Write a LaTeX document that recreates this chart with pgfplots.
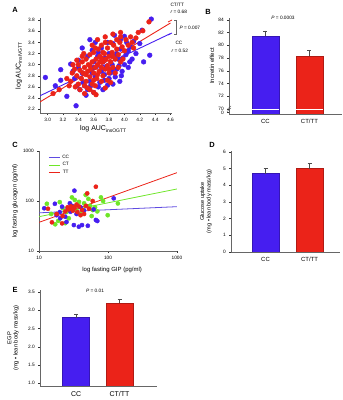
\documentclass[border=0pt]{standalone}
\usepackage{fontspec}
\setmainfont{Liberation Sans}
\usepackage{pgfplots}
\pgfplotsset{compat=1.18}
\definecolor{cblue}{RGB}{70,30,240}
\definecolor{cred}{RGB}{235,35,25}
\definecolor{cgreen}{RGB}{110,230,40}
\definecolor{lblue}{RGB}{95,75,225}
\pgfplotsset{panel/.style={scale only axis, axis x line*=bottom, axis y line*=left,
  xtick pos=left, ytick pos=left, tick align=outside, major tick length=1.8bp,
  tick style={black!80, line width=0.4pt}, axis line style={black!60, line width=0.5pt},
  tick label style={font=\fontsize{4.8}{5.5}\selectfont},
  /pgf/number format/assume math mode=true,
  label style={font=\fontsize{6}{7}\selectfont}},
  barpanel/.style={panel, xtick={1,2}, xticklabels={CC,CT/TT}, xtick style={draw=none},
  xticklabel style={font=\fontsize{6}{7}\selectfont}},
  bar/.style={ybar, bar shift=0pt, bar width=27bp, fill=#1, draw=#1!75!black, line width=0.4pt,
  error bars/.cd, y dir=plus, y explicit, error bar style={black!70, line width=0.4pt},
  error mark options={rotate=90, mark size=2bp, black!70, line width=0.4pt}}
}
\begin{document}
\begin{tikzpicture}
\path[use as bounding box] (0,0) rectangle (343bp,400bp);
% ---------------- A
\begin{axis}[panel, at={(40bp,287bp)}, anchor=south west, width=132bp, height=95bp,
  xmin=2.9, xmax=4.62, ymin=2.13, ymax=3.84,
  xtick={3.0,3.2,3.4,3.6,3.8,4.0,4.2,4.4,4.6}, ytick={2.2,2.4,2.6,2.8,3.0,3.2,3.4,3.6,3.8},
  xticklabel style={/pgf/number format/.cd, fixed, fixed zerofill, precision=1},
  yticklabel style={/pgf/number format/.cd, fixed, fixed zerofill, precision=1},
  label style={font=\fontsize{7}{8}\selectfont},
  xlabel={log AUC\textsubscript{insOGTT}}, ylabel={log AUC\textsubscript{insIVGTT}},
  xlabel style={at={(axis description cs:0.48,-0.17)}, anchor=center},
  ylabel style={at={(axis description cs:-0.16,0.5)}, anchor=center}]
\addplot[cblue, line width=0.9pt] coordinates {(2.9,2.44) (4.6,3.56)};
\addplot[cred, line width=0.9pt] coordinates {(2.9,2.33) (4.6,3.75)};
\addplot[only marks, mark=*, mark size=2.4bp, cblue] table {
x y
2.97 2.77
3.17 2.72
3.17 2.91
3.10 2.62
3.25 2.43
3.37 2.26
3.30 3.01
3.40 3.08
3.45 2.85
3.48 2.62
3.52 2.55
3.55 2.70
3.58 3.26
3.60 2.95
3.62 2.78
3.65 3.15
3.66 2.60
3.70 2.88
3.72 3.05
3.74 2.72
3.76 2.95
3.78 2.63
3.80 3.20
3.82 2.85
3.84 3.00
3.85 3.38
3.87 3.53
3.88 2.78
3.90 2.92
3.92 3.10
3.94 2.70
3.95 3.28
3.97 2.88
4.00 3.51
4.00 3.00
4.02 3.18
4.05 2.95
4.08 3.32
4.10 3.10
4.12 3.42
4.15 3.20
4.20 3.38
4.23 3.62
4.25 3.05
4.33 3.17
4.35 3.82
3.55 3.45
3.45 3.30
3.35 2.75
3.42 2.55
3.50 2.45
3.60 2.50
3.68 2.68
3.72 2.55
3.85 2.65
3.78 3.40
3.70 3.30
3.62 3.40
3.52 3.15
3.40 2.95
3.33 2.88
3.60 3.05
3.75 3.12
3.90 3.20
4.05 3.25
3.95 3.45
3.88 3.15
3.66 3.22
3.58 2.85
3.80 2.75
3.93 2.98
3.98 3.12
4.03 3.40
3.46 2.68
3.38 2.62
3.56 2.62
3.84 2.90
3.96 2.80
4.07 3.05
3.74 2.82
};
\addplot[only marks, mark=*, mark size=2.4bp, cred] table {
x y
3.07 2.48
3.15 2.55
3.48 2.48
3.63 2.46
3.60 2.50
3.30 2.70
3.32 2.85
3.35 2.92
3.38 2.80
3.40 2.65
3.40 3.00
3.42 2.90
3.44 2.75
3.45 3.05
3.46 2.85
3.48 2.95
3.50 2.70
3.50 3.10
3.52 2.88
3.53 3.00
3.55 2.78
3.55 3.18
3.56 2.92
3.58 3.05
3.58 2.65
3.60 2.85
3.60 3.22
3.62 2.95
3.63 3.10
3.64 2.75
3.65 3.00
3.66 3.28
3.67 2.88
3.68 3.15
3.70 2.95
3.70 3.35
3.72 3.05
3.72 2.80
3.74 3.20
3.75 2.92
3.76 3.10
3.78 3.30
3.78 2.98
3.80 3.15
3.80 2.85
3.82 3.40
3.82 3.05
3.84 3.22
3.85 2.95
3.86 3.35
3.88 3.10
3.90 3.28
3.90 3.45
3.92 3.18
3.94 3.40
3.95 3.05
3.97 3.32
4.00 3.25
4.02 3.45
4.05 3.35
4.08 3.50
4.10 3.40
4.15 3.48
4.18 3.58
4.24 3.61
4.32 3.77
3.36 2.60
3.42 2.55
3.48 2.62
3.52 2.58
3.45 3.15
3.38 3.08
3.55 2.55
3.62 2.62
3.58 3.35
3.65 3.45
3.75 3.50
3.85 3.55
3.95 3.58
3.70 2.70
3.78 2.72
3.88 2.85
3.92 2.95
3.98 3.10
3.25 2.75
3.28 2.62
3.33 3.00
3.62 3.30
3.68 3.05
3.72 3.22
3.80 2.92
3.55 2.98
3.50 2.82
3.47 3.20
3.65 2.82
3.75 3.40
4.12 3.30
3.95 3.50
3.85 3.15
3.70 3.12
3.60 2.72
3.75 2.58
3.82 2.68
};
\end{axis}
% A annotations
\begin{scope}[font=\fontsize{4.8}{5.5}\selectfont]
\node[anchor=west] at (167bp,395bp) {CT/TT};
\node[anchor=west] at (167bp,388bp) {\textit{r} = 0.68};
\draw[cred, line width=0.7pt] (168bp,378bp) -- (172bp,380bp);
\draw[cblue, line width=0.7pt] (168bp,365bp) -- (172bp,367bp);
\draw[black!60, line width=0.3pt] (174bp,380bp) -- (176bp,380bp) -- (176bp,366bp) -- (174bp,366bp);
\node[anchor=west] at (176bp,372bp) {\textit{P} = 0.007};
\node[anchor=west] at (172bp,357bp) {CC};
\node[anchor=west] at (168bp,349bp) {\textit{r} = 0.52};
\end{scope}
% ---------------- B
\begin{axis}[barpanel, at={(229bp,286bp)}, anchor=south west, width=113bp, height=96bp,
  xmin=0.17, xmax=2.74, ymin=69.2, ymax=84.3,
  ytick={70,72,74,76,78,80,82,84}, extra y ticks={69.45}, extra y tick labels={0},
  ylabel={Incretin effect},
  ylabel style={at={(axis description cs:-0.15,0.5)}, anchor=center}]
\addplot[bar=cblue] coordinates {(1,81.5) +- (0,0.8)};
\addplot[bar=cred] coordinates {(2,78.3) +- (0,0.9)};
\addplot[white, line width=1.1pt] coordinates {(0.70,69.85) (1.30,69.85)};
\addplot[white, line width=1.1pt] coordinates {(1.70,69.85) (2.30,69.85)};
\end{axis}
\draw[black!70, line width=0.35pt] (227bp,288.5bp) -- (231bp,292bp);
\draw[black!70, line width=0.35pt] (227bp,290.5bp) -- (231bp,294bp);
\node[font=\fontsize{4.8}{5.5}\selectfont] at (283bp,382bp) {\textit{P} = 0.0003};
% ---------------- C
\begin{axis}[panel, at={(39bp,149bp)}, anchor=south west, width=138bp, height=100bp,
  xmode=log, ymode=log, xmin=10, xmax=1000, ymin=10, ymax=1000,
  xminorticks=false, yminorticks=false,
  xtick={10,100,1000}, xticklabels={10,100,1000},
  ytick={10,100,1000}, yticklabels={10,100,1000},
  xlabel={log fasting GIP (pg/ml)}, ylabel={log fasting glucagon (pg/ml)},
  xlabel style={at={(axis description cs:0.53,-0.19)}, anchor=center},
  ylabel style={at={(axis description cs:-0.174,0.5)}, anchor=center},
  legend style={draw=none, fill=none, at={(axis description cs:0.06,0.99)}, anchor=north west,
    font=\fontsize{4.8}{5.5}\selectfont, row sep=-1.5pt, inner sep=1pt},
  legend image code/.code={\draw[#1] (0bp,0bp) -- (11bp,0bp);}]
\addplot[lblue, line width=0.8pt] coordinates {(10,58) (1000,77)};
\addlegendentry{CC}
\addplot[cgreen, line width=0.8pt] coordinates {(10,48.6) (1000,174)};
\addlegendentry{CT}
\addplot[cred, line width=0.8pt] coordinates {(10,37.4) (1000,369)};
\addlegendentry{TT}
\addplot[only marks, mark=*, mark size=2.1bp, cgreen, forget plot] table {
x y
13 88
15 55
17.2 34.2
19 40
22 72
25 60
20 95
30 118
35 65
40 55
47.5 132
45 90
52 110
55 80
60 66
65 75
70 62
79 118
99 52
139 89.5
85 100
27 45
24 36
38 96
58 50
33 105
};
\addplot[only marks, mark=*, mark size=2.1bp, cblue, forget plot] table {
x y
11.9 71.5
17 88
21.6 77
20 60
24 48.5
20.3 45.2
28.6 61
32.6 161
32 33
37.8 30.6
42 33
51 32
26 72
30 80
35 55
45 65
66.7 41.7
62 68
70 39.8
121 113
18 52
25 38
40 75
28 90
};
\addplot[only marks, mark=*, mark size=2.1bp, cred, forget plot] table {
x y
13.5 70
15.4 37.5
18 55
21.6 35.7
24 62
26 75
27 68
28 72
29 78
30 70
31 64
32 76
33 73
36 60
40 52
45 55
50 142
66.7 193
53 70
48 80
35 85
42 66
22 50
38 78
60 100
};
\end{axis}
% ---------------- D
\begin{axis}[barpanel, at={(231bp,148bp)}, anchor=south west, width=109bp, height=101bp,
  xmin=0.216, xmax=2.69, ymin=0, ymax=6.05, ytick={0,1,2,3,4,5,6},
  ylabel={Glucose uptake\\(mg • lean body mass/kg)}, ylabel style={align=center,
  at={(axis description cs:-0.23,0.5)}, anchor=center, font=\fontsize{5.6}{6.3}\selectfont}]
\addplot[bar=cblue] coordinates {(1,4.7) +- (0,0.3)};
\addplot[bar=cred] coordinates {(2,5.0) +- (0,0.3)};
\end{axis}
% ---------------- E
\begin{axis}[barpanel, at={(40bp,14bp)}, anchor=south west, width=117bp, height=95.7bp,
  xmin=0.172, xmax=2.86, ymin=0.92, ymax=3.55, ytick={1,1.5,2,2.5,3,3.5},
  yticklabel style={/pgf/number format/.cd, fixed, fixed zerofill, precision=1},
  xticklabel style={font=\fontsize{7}{8}\selectfont},
  ylabel={EGP\\(mg • lean body mass/kg)}, ylabel style={align=center,
  at={(axis description cs:-0.23,0.5)}, anchor=center, font=\fontsize{5.8}{6.5}\selectfont}]
\addplot[bar=cblue] coordinates {(1,2.8) +- (0,0.1)};
\addplot[bar=cred] coordinates {(2,3.2) +- (0,0.1)};
\end{axis}
\node[font=\fontsize{4.8}{5.5}\selectfont] at (95bp,109bp) {\textit{P} = 0.01};
% panel letters
\begin{scope}[font=\fontsize{7.5}{8}\selectfont\bfseries]
\node at (15bp,390bp) {A};
\node at (208bp,388bp) {B};
\node at (15bp,255bp) {C};
\node at (212bp,255bp) {D};
\node at (15bp,110bp) {E};
\end{scope}
\end{tikzpicture}
\end{document}
